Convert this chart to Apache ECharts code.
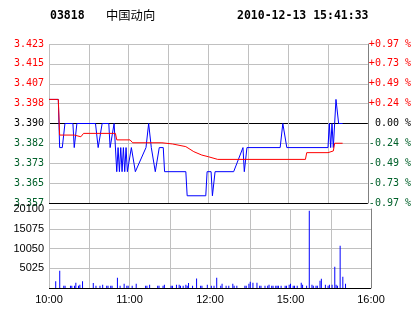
<!DOCTYPE html>
<html><head><meta charset="utf-8">
<script src="https://cdn.jsdelivr.net/npm/echarts@6/dist/echarts.min.js"></script>
<style>html,body{margin:0;padding:0;background:#fff;}#c{width:414px;height:314px;}</style>
</head><body><div id="c"></div>
<script>
// ---- data ----
const stockCode = '03818';
const stockName = '中国动向';
const stamp = '2010-12-13 15:41:33';
const prevClose = 3.390;
const priceMin = 3.357, priceMax = 3.423;
const priceTicks = ['3.357','3.365','3.373','3.382','3.390','3.398','3.407','3.415','3.423'];
const pctTicks = ['-0.97 %','-0.73 %','-0.49 %','-0.24 %',' 0.00 %','+0.24 %','+0.49 %','+0.73 %','+0.97 %'];
const volTicks = ['','5025','10050','15075','20100'];
const timeTicks = ['10:00','','11:00','','12:00','','15:00','','16:00'];
// [trading minute since 10:00, price]
const priceLine = [[0,3.40],[7,3.40],[8,3.38],[10,3.38],[12,3.39],[18,3.39],[19,3.38],[20,3.38],[21,3.39],[35,3.39],[37,3.38],[38,3.38],[40,3.39],[45,3.39],[46,3.38],[47,3.38],[49,3.39],[50,3.39],[51,3.37],[52,3.38],[53,3.37],[54,3.38],[55,3.37],[56,3.38],[57,3.37],[58,3.38],[59,3.37],[60,3.37],[62,3.38],[63,3.38],[65,3.37],[73,3.38],[75,3.39],[77,3.38],[80,3.37],[83,3.38],[86,3.38],[87,3.37],[103,3.37],[104,3.36],[118,3.36],[119,3.37],[122,3.37],[123,3.36],[125,3.37],[139,3.37],[146,3.38],[147,3.37],[149,3.38],[174,3.38],[176,3.39],[177,3.39],[179,3.38],[210,3.38],[211,3.39],[212,3.38],[213,3.39],[214,3.38],[215,3.39],[216,3.40],[217,3.40],[218,3.39],[221,3.39]];
const avgLine = [[0,3.40],[7,3.40],[8,3.3852],[19,3.3852],[20,3.3845],[24,3.3845],[26,3.3859],[50,3.3859],[51,3.3832],[61,3.3832],[63,3.382],[85,3.382],[93,3.3815],[103,3.3804],[109,3.3783],[115,3.3769],[120,3.3762],[127,3.3751],[193,3.3751],[194,3.3779],[210,3.3779],[211,3.3786],[214,3.3786],[215,3.3818],[221,3.3818]];
// [trading minute, volume]
const volume = [[5,1700],[8,4400],[11,600],[12,600],[16,600],[17,600],[19,600],[20,1350],[22,600],[23,800],[25,1700],[33,1300],[35,600],[38,600],[40,800],[43,600],[44,600],[46,600],[47,600],[51,2600],[53,600],[56,1100],[58,600],[59,600],[62,600],[65,1100],[72,600],[73,600],[75,800],[81,600],[82,600],[85,600],[86,800],[91,600],[92,600],[95,800],[97,800],[98,600],[100,600],[102,800],[103,600],[104,1300],[107,600],[110,2400],[113,600],[114,600],[118,800],[121,600],[123,600],[125,2600],[128,600],[129,1100],[132,600],[134,600],[137,1100],[138,600],[140,600],[146,600],[147,600],[149,1100],[150,1600],[152,1350],[155,1350],[157,600],[158,600],[161,600],[163,600],[164,800],[166,600],[167,600],[169,600],[170,600],[171,600],[173,600],[176,600],[177,600],[179,800],[180,1100],[182,600],[183,600],[185,600],[188,1350],[189,800],[192,600],[194,19650],[196,800],[197,600],[199,600],[200,600],[202,1860],[203,2370],[206,800],[208,600],[209,800],[211,800],[213,5400],[214,800],[215,600],[217,10750],[219,2880],[221,1100]];

// ---- chart ----
const RED = '#ff0000', GREEN = '#00602a', GRID = '#c0c0c0';
const mono = 'DejaVu Sans Mono';
const sans = 'Liberation Sans';
const priceGridColors = ['#000',GRID,GRID,GRID,'#000',GRID,GRID,GRID,GRID];
const volGridColors = ['#000',GRID,GRID,GRID,GRID];
function tickColor(v){ v = Number(v); return v > 0 ? RED : (v < 0 ? GREEN : '#000'); }

const chart = echarts.init(document.getElementById('c'), null, {renderer:'canvas'});
chart.setOption({
  animation: false,
  backgroundColor: '#fff',
  graphic: [
    {type:'text', left:50, top:10, style:{text:stockCode, font:'bold 11.5px "'+mono+'"', fill:'#000'}},
    {type:'text', left:106, top:9, style:{text:stockName, font:'12.3px "Noto Sans CJK SC"', fill:'#000'}},
    {type:'text', left:237, top:10, style:{text:stamp, font:'bold 11.5px "'+mono+'"', fill:'#000'}}
  ],
  grid: [
    {left:49, top:44, width:322, height:159},
    {left:49, top:209, width:322, height:79}
  ],
  xAxis: [
    {type:'value', gridIndex:0, min:0, max:240, interval:30,
     axisLine:{show:false}, axisTick:{show:false}, axisLabel:{show:false},
     splitLine:{show:true, lineStyle:{color:GRID, width:1}}},
    {type:'value', gridIndex:1, min:0, max:240, interval:30,
     axisLine:{show:false}, axisTick:{show:false},
     axisLabel:{show:true, margin:6, fontFamily:sans, fontSize:11, color:'#000',
       formatter:(v)=>timeTicks[Math.round(v/30)] || '', showMinLabel:true, showMaxLabel:true},
     splitLine:{show:true, lineStyle:{color:GRID, width:1}}}
  ],
  yAxis: [
    {type:'value', gridIndex:0, position:'left', min:-4, max:4, interval:1,
     axisLine:{show:false}, axisTick:{show:false},
     axisLabel:{margin:5, fontFamily:mono, fontSize:10, color:tickColor,
       formatter:(v)=>priceTicks[Math.round(v)+4]},
     splitLine:{show:true, lineStyle:{color:priceGridColors, width:1}}},
    {type:'value', gridIndex:0, position:'right', min:-4, max:4, interval:1,
     axisLine:{show:true, lineStyle:{color:'#808080', width:1}}, axisTick:{show:false},
     axisLabel:{margin:1, fontFamily:mono, fontSize:10, color:tickColor,
       formatter:(v)=>pctTicks[Math.round(v)+4]},
     splitLine:{show:false}},
    {type:'value', gridIndex:0, min:priceMin, max:priceMax, show:false, splitLine:{show:false}},
    {type:'value', gridIndex:1, position:'left', min:0, max:20100, interval:5025,
     axisLine:{show:false}, axisTick:{show:false},
     axisLabel:{margin:5, fontFamily:sans, fontSize:11, color:'#000',
       formatter:(v)=>volTicks[Math.round(v/5025)]},
     splitLine:{show:true, lineStyle:{color:volGridColors, width:1}}},
    {type:'value', gridIndex:1, position:'right', min:0, max:20100, interval:5025,
     axisLine:{show:true, lineStyle:{color:'#808080', width:1}}, axisTick:{show:false},
     axisLabel:{show:false}, splitLine:{show:false}}
  ],
  series: [
    {type:'line', xAxisIndex:0, yAxisIndex:2, data:priceLine, showSymbol:false, symbol:'none',
     lineStyle:{color:'#0000ff', width:1}, silent:true, z:3},
    {type:'line', xAxisIndex:0, yAxisIndex:2, data:avgLine, showSymbol:false, symbol:'none',
     lineStyle:{color:RED, width:1}, silent:true, z:4},
    {type:'bar', xAxisIndex:1, yAxisIndex:3, data:volume, barWidth:1,
     itemStyle:{color:'#0000ff'}, silent:true, z:3}
  ]
});
</script></body></html>
